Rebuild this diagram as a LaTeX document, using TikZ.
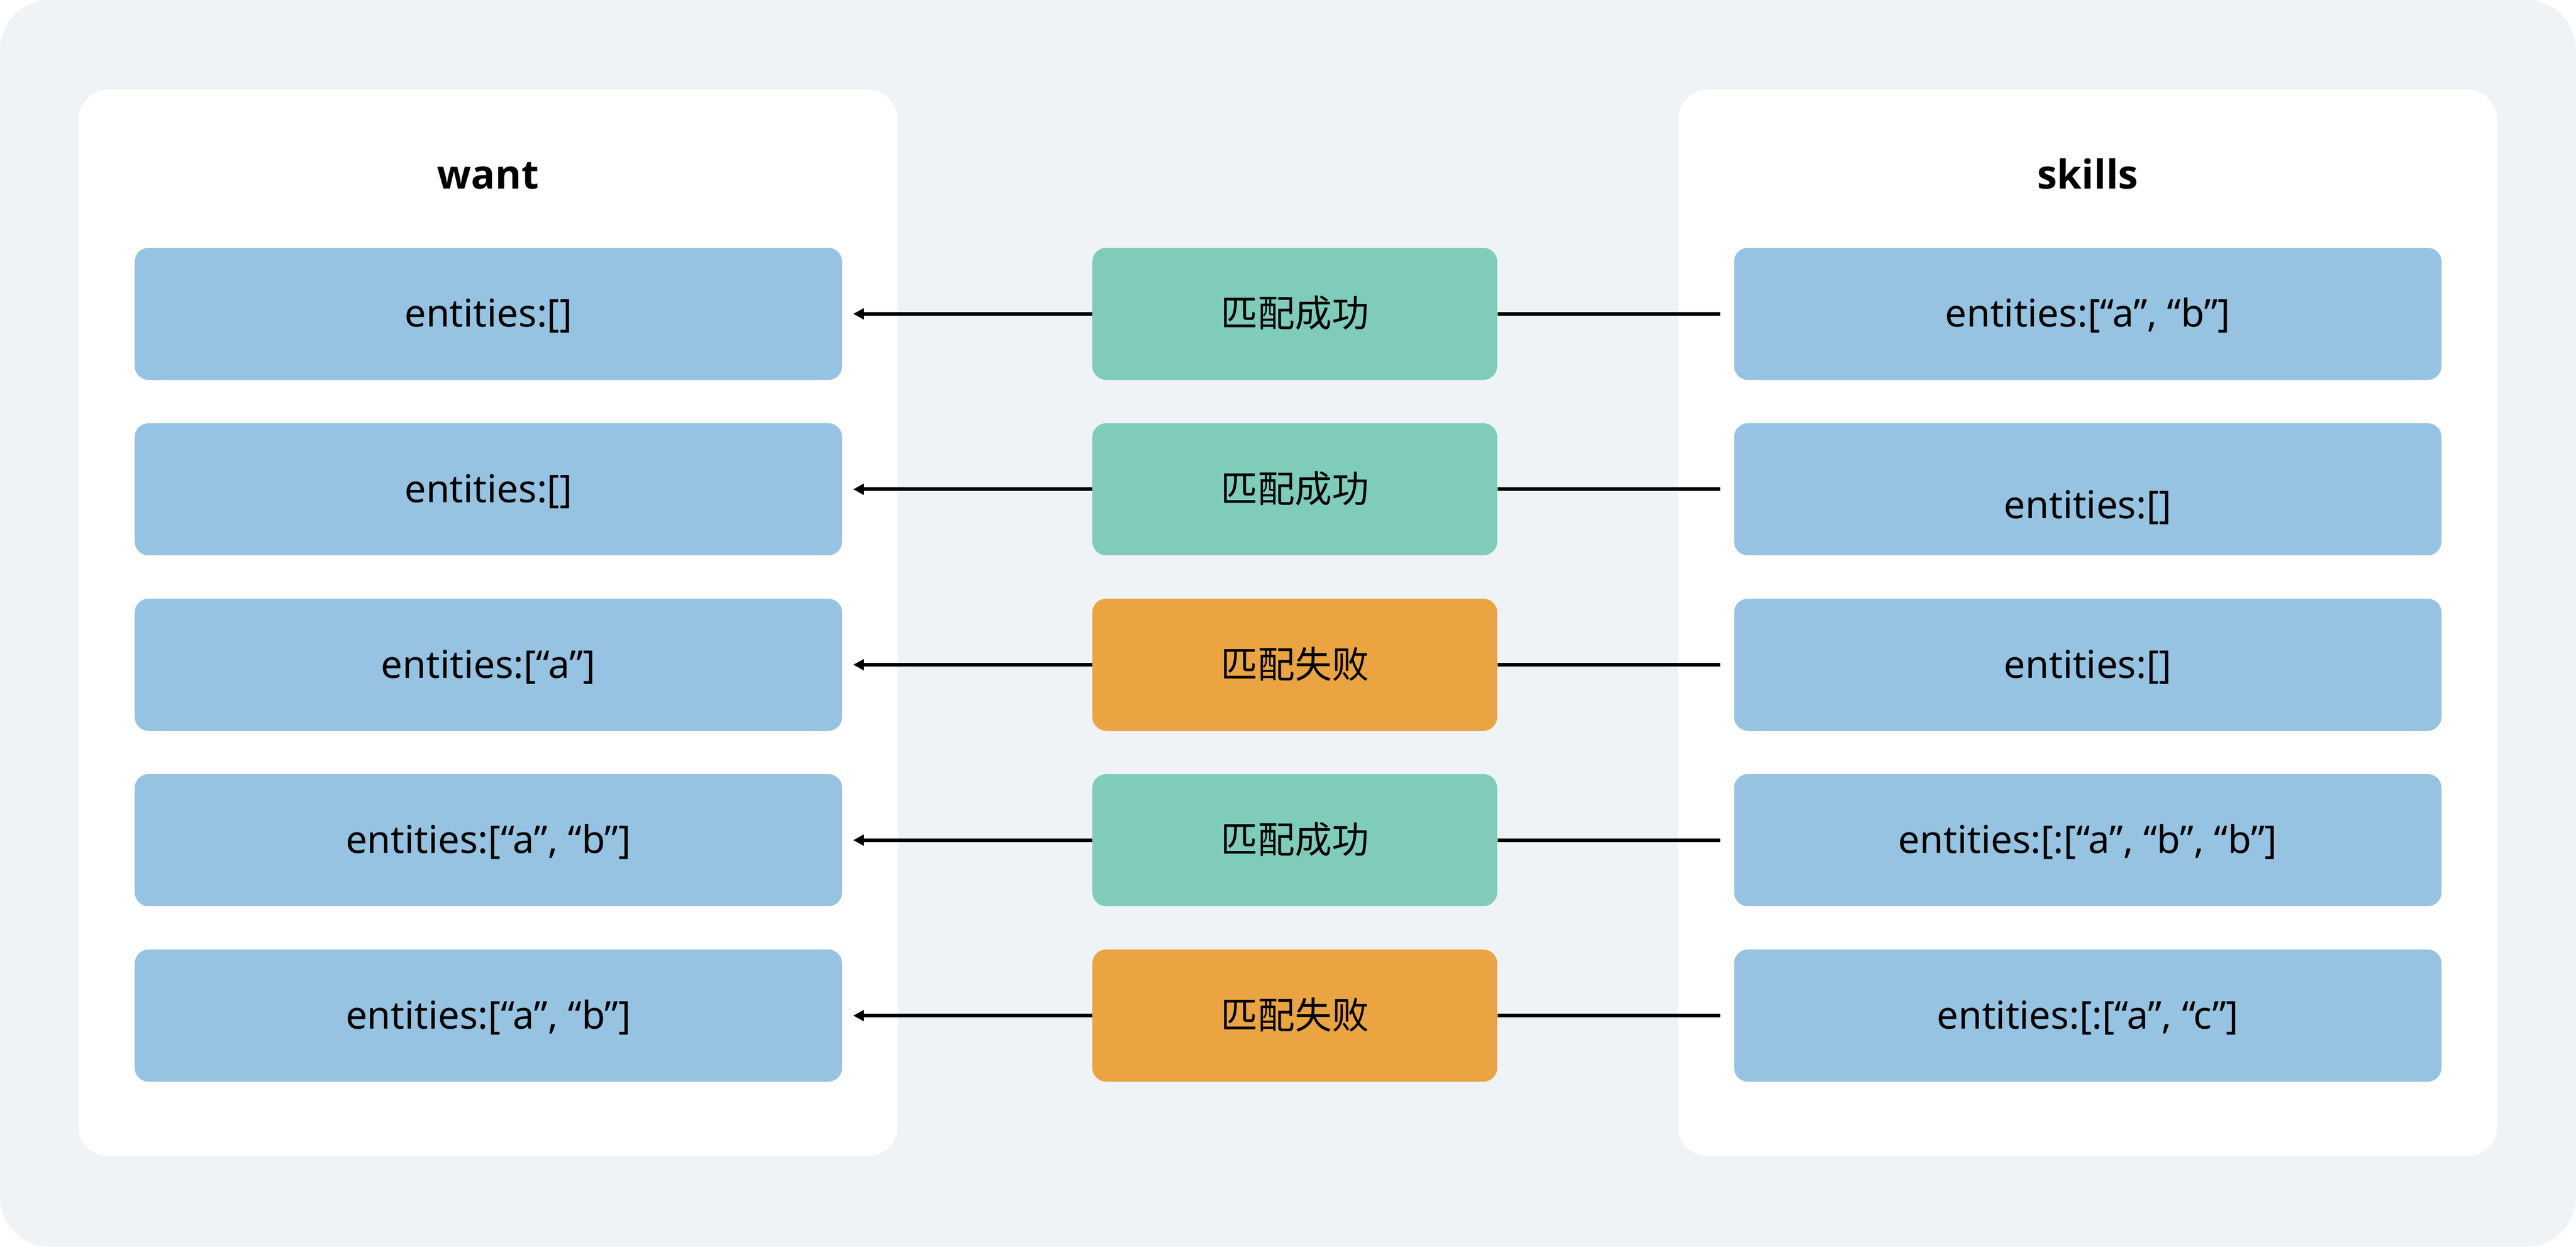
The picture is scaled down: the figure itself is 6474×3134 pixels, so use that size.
\documentclass[tikz,border=0pt]{standalone}
\usepackage{fontspec}
\setmainfont{Noto Sans}
\newfontfamily\titlefont{Open Sans}
\newfontfamily\cjk{Noto Sans CJK SC}
\usetikzlibrary{arrows.meta}
\definecolor{bgc}{HTML}{EFF3F6}
\definecolor{boxblue}{HTML}{96C3E1}
\definecolor{okgreen}{HTML}{7FCCBB}
\definecolor{failorange}{HTML}{EBA442}
\begin{document}
\begin{tikzpicture}[x=0.01cm,y=-0.01cm,
  panel/.style={rectangle, rounded corners=0.75cm, fill=white, minimum width=20.57cm, minimum height=26.80cm, inner sep=0pt},
  paneltitle/.style={anchor=base, inner sep=0pt, font=\titlefont\fontsize{28.5}{34}\selectfont\bfseries},
  entbox/.style={rectangle, rounded corners=0.35cm, fill=boxblue, minimum width=17.77cm, minimum height=3.32cm, inner sep=0pt, text height=0.8cm, text depth=0.14cm, font=\fontsize{27.3}{32}\selectfont},
  matchbox/.style={rectangle, rounded corners=0.35cm, minimum width=10.17cm, minimum height=3.32cm, inner sep=0pt, text height=0.8cm, text depth=0.14cm, font=\fontsize{26.5}{32}\selectfont\cjk},
  okbox/.style={matchbox, fill=okgreen},
  failbox/.style={matchbox, fill=failorange},
  conn/.style={line width=0.09cm, black},
  arr/.style={conn, -{Triangle[length=0.27cm,width=0.27cm]}, shorten >=0.27cm},
  feed/.style={conn, shorten <=0.34cm}
]
\fill[bgc, rounded corners=1.25cm] (0,0) rectangle (6474,3134);
\useasboundingbox (0,0) rectangle (6474,3134);

\node[panel] (pl) at (1226.5,1566) {};
\node[panel] (pr) at (5246.5,1566) {};
\node[paneltitle] (tl) at (1226.5,474) {want};
\node[paneltitle] (tr) at (5247,474) {skills};

% left (want)
\node[entbox] (l1) at (1227.5,789) {entities:[]};
\node[entbox] (l2) at (1227.5,1230) {entities:[]};
\node[entbox] (l3) at (1227.5,1671) {entities:[“a”]};
\node[entbox] (l4) at (1227.5,2112) {entities:[“a”, “b”]};
\node[entbox] (l5) at (1227.5,2553) {entities:[“a”, “b”]};

% right (skills)
\node[entbox] (r1) at (5247,789) {entities:[“a”, “b”]};
\node[entbox] (r2) at (5247,1230) {\raisebox{-0.4cm}{entities:[]}};
\node[entbox] (r3) at (5247,1671) {entities:[]};
\node[entbox] (r4) at (5247,2112) {entities:[:[“a”, “b”, “b”]};
\node[entbox] (r5) at (5247,2553) {entities:[:[“a”, “c”]};

% middle (result)
\node[okbox] (m1) at (3254,789) {匹配成功};
\node[okbox] (m2) at (3254,1230) {匹配成功};
\node[failbox] (m3) at (3254,1671) {匹配失败};
\node[okbox] (m4) at (3254,2112) {匹配成功};
\node[failbox] (m5) at (3254,2553) {匹配失败};

\foreach \i in {1,...,5}{
  \draw[feed] (r\i.west) -- (m\i.east);
  \draw[arr] (m\i.west) -- (l\i.east);
}
\end{tikzpicture}
\end{document}
